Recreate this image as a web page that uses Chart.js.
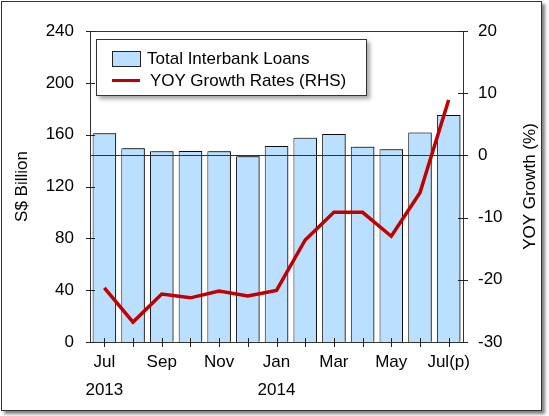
<!DOCTYPE html>
<html>
<head>
  <meta charset="utf-8">
  <title>Interbank loans</title>
  <script src="https://cdn.jsdelivr.net/npm/chart.js@4.4.1/dist/chart.umd.min.js"></script>
  <style>
    body { margin: 0; background: #fff; font-family: "Liberation Sans", Arial, sans-serif; }
    #frame {
      position: absolute; left: 1px; top: 1px; width: 541px; height: 410px;
      box-sizing: border-box; border: 1px solid #333; background: #fff;
      box-shadow: 3px 3px 3px rgba(0, 0, 0, 0.5);
    }
    #wrap { position: absolute; left: 0; top: 0; width: 549px; height: 416px; }
    #legend {
      position: absolute; left: 96px; top: 39px; width: 271px; height: 57px;
      box-sizing: border-box; border: 1px solid #333; background: #fff;
      box-shadow: 3px 3px 4px rgba(0, 0, 0, 0.35); font-size: 17px; color: #000;
    }
    .item { position: absolute; left: 0; height: 20px; line-height: 20px; white-space: nowrap; }
    .swatch { position: absolute; left: 15px; box-sizing: border-box; }
  </style>
</head>
<body>
  <div id="frame"></div>
  <div id="wrap"><canvas id="chart" width="549" height="416"></canvas></div>
  <div id="legend"></div>

<script>
  const months = ['Jul', 'Aug', 'Sep', 'Oct', 'Nov', 'Dec', 'Jan', 'Feb', 'Mar', 'Apr', 'May', 'Jun', 'Jul'];
  const tickLabels = [['Jul', '2013'], '', ['Sep', ''], '', ['Nov', ''], '', ['Jan', '2014'], '', ['Mar', ''], '', ['May', ''], '', ['Jul(p)', '']];
  const loans = [161, 149.5, 147.2, 147.4, 147.2, 143.3, 151.3, 157.7, 160.5, 150.7, 148.7, 161.6, 175.2];
  const growth = [-21.3, -26.8, -22.3, -22.9, -21.8, -22.6, -21.7, -13.6, -9.15, -9.15, -13.0, -6.0, 8.9];

  const barBlue = 'rgb(187, 224, 255)';
  const lineRed = '#c00000';
  const font = { family: '"Liberation Sans", Arial, sans-serif', size: 17 };

  // bar shadow, zero line, top border, crossing ticks, right title read bottom-up
  const decor = {
    id: 'decor',
    beforeDatasetDraw(chart, args) {
      if (args.meta.type !== 'bar') return;
      const ctx = chart.ctx;
      ctx.save();
      ctx.shadowColor = 'rgba(0,0,0,0.45)';
      ctx.shadowOffsetX = 2;
      ctx.shadowOffsetY = -1;
      ctx.shadowBlur = 1;
    },
    afterDatasetDraw(chart, args) {
      if (args.meta.type !== 'bar') return;
      const ctx = chart.ctx;
      ctx.restore();
      const a = chart.chartArea;
      const y0 = Math.round(chart.scales.y1.getPixelForValue(0)) + 0.5;
      ctx.save();
      ctx.strokeStyle = '#333';
      ctx.lineWidth = 1;
      ctx.beginPath();
      ctx.moveTo(a.left, y0);
      ctx.lineTo(a.right, y0);
      ctx.moveTo(a.left, Math.round(a.top) + 0.5);
      ctx.lineTo(a.right, Math.round(a.top) + 0.5);
      ctx.stroke();
      ctx.restore();
    },
    afterDraw(chart) {
      const ctx = chart.ctx;
      const { x, y, y1 } = chart.scales;
      const a = chart.chartArea;
      ctx.save();
      ctx.strokeStyle = '#222';
      ctx.lineWidth = 1;
      ctx.beginPath();
      x.ticks.forEach((t, i) => {
        const px = Math.round(x.getPixelForTick(i)) + 0.5;
        ctx.moveTo(px, a.bottom - 4);
        ctx.lineTo(px, a.bottom + 5);
      });
      y.ticks.forEach((t, i) => {
        const py = Math.round(y.getPixelForTick(i)) + 0.5;
        ctx.moveTo(a.left - 4, py);
        ctx.lineTo(a.left + 5, py);
      });
      y1.ticks.forEach((t, i) => {
        const py = Math.round(y1.getPixelForTick(i)) + 0.5;
        ctx.moveTo(a.right - 5, py);
        ctx.lineTo(a.right + 5, py);
      });
      ctx.stroke();

      // right axis title, rotated like the left one
      ctx.translate(y1.right - 19, (a.top + a.bottom) / 2);
      ctx.rotate(-Math.PI / 2);
      ctx.fillStyle = '#000';
      ctx.font = font.size + 'px ' + font.family;
      ctx.textAlign = 'center';
      ctx.textBaseline = 'middle';
      ctx.fillText(y1.options.title.text, 0, 0);
      ctx.restore();
    }
  };

  const chart = new Chart(document.getElementById('chart'), {
    data: {
      labels: months,
      datasets: [
        {
          type: 'bar',
          label: 'Total Interbank Loans',
          data: loans,
          yAxisID: 'y',
          backgroundColor: barBlue,
          borderColor: '#111',
          borderWidth: 1,
          barPercentage: 0.82,
          categoryPercentage: 1,
          order: 2
        },
        {
          type: 'line',
          label: 'YOY Growth Rates (RHS)',
          data: growth,
          yAxisID: 'y1',
          borderColor: lineRed,
          borderWidth: 3.5,
          pointRadius: 0,
          tension: 0,
          order: 1
        }
      ]
    },
    options: {
      responsive: false,
      animation: false,
      events: [],
      layout: { padding: { top: 31, left: 0, right: 0, bottom: 0 } },
      plugins: { legend: { display: false }, tooltip: { enabled: false } },
      scales: {
        x: {
          grid: { display: false, drawTicks: false },
          border: { color: '#333' },
          ticks: {
            autoSkip: false, maxRotation: 0, padding: 6, color: '#000',
            font: { ...font, lineHeight: 1.65 },
            callback: (v, i) => tickLabels[i]
          },
          afterFit(s) { s.height = 74; }
        },
        y: {
          position: 'left',
          min: 0, max: 240,
          grid: { display: false, drawTicks: false },
          border: { color: '#333' },
          ticks: { stepSize: 40, padding: 16, color: '#000', font: font },
          title: { display: true, text: 'S$ Billion', color: '#000', font: font, padding: { top: 12, bottom: 0 } },
          afterFit(s) { s.width = 90; }
        },
        y1: {
          position: 'right',
          min: -30, max: 20,
          grid: { display: false, drawTicks: false },
          border: { color: '#333' },
          ticks: { stepSize: 10, padding: 15, color: '#000', font: font },
          title: { display: false, text: 'YOY Growth (%)' },
          afterFit(s) { s.width = 86; }
        }
      }
    },
    plugins: [decor]
  });

  // legend box built from the dataset labels
  const legend = document.getElementById('legend');
  chart.data.datasets.forEach((ds) => {
    const item = document.createElement('div');
    item.className = 'item';
    const sw = document.createElement('div');
    sw.className = 'swatch';
    const label = document.createElement('span');
    label.textContent = ds.label;
    label.style.position = 'absolute';
    if (ds.type === 'bar') {
      item.style.top = '9px';
      sw.style.top = '2px';
      sw.style.width = '29px';
      sw.style.height = '16px';
      sw.style.background = ds.backgroundColor;
      sw.style.border = '1px solid #222';
      label.style.left = '50px';
    } else {
      item.style.top = '31px';
      sw.style.top = '8px';
      sw.style.width = '28px';
      sw.style.height = '3px';
      sw.style.background = ds.borderColor;
      label.style.left = '53px';
    }
    item.appendChild(sw);
    item.appendChild(label);
    legend.appendChild(item);
  });
</script>
</body>
</html>
